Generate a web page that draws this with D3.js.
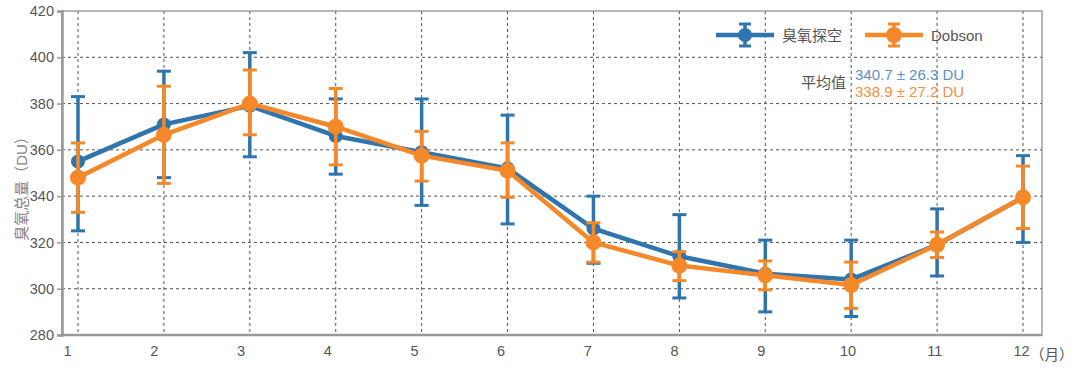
<!DOCTYPE html>
<html>
<head>
<meta charset="utf-8">
<script src="https://cdn.jsdelivr.net/npm/d3@7"></script>
<style>
  body { margin: 0; background: #fff; }
  svg text { font-family: "Liberation Sans", "Noto Sans CJK SC", sans-serif; }
</style>
</head>
<body>
<svg id="chart" width="1080" height="370"></svg>
<script>
// data
var months = [1, 2, 3, 4, 5, 6, 7, 8, 9, 10, 11, 12];
var yTicks = [280, 300, 320, 340, 360, 380, 400, 420];

var sondeMean = [355, 371, 379, 366, 359, 352, 326, 314, 306.5, 304, 319, 339.5];
var sondeHigh = [383, 394, 402, 382, 382, 375, 340, 332, 321, 321, 334.5, 357.5];
var sondeLow  = [325, 348, 357, 349.5, 336, 328, 311, 296, 290, 288, 305.5, 320];

var dobsonMean = [348, 366.5, 380, 370, 357.5, 351, 320, 310, 305.8, 301.6, 319, 339.5];
var dobsonHigh = [363, 387.5, 394.5, 386.5, 368, 363, 328.5, 316, 312, 311.5, 324.5, 353];
var dobsonLow  = [333, 345.5, 366.5, 353.5, 346.5, 339.5, 311.5, 303.5, 299.5, 291.5, 313.5, 326];

var seriesNames = ['臭氧探空', 'Dobson'];
var meanText = ['340.7 ± 26.3 DU', '338.9 ± 27.2 DU'];

var svg = d3.select('#chart');
var pLeft = 62, pRight = 1042, pTop = 11, pBottom = 335;

var x = d3.scaleLinear().domain([1, 12]).range([78, 1023]);
var xLabel = d3.scaleLinear().domain([1, 12]).range([67, 1021]);
var y = d3.scaleLinear().domain([280, 420]).range([pBottom, pTop]);

// grid
svg.append('g').selectAll('line').data(yTicks.slice(1, -1)).enter().append('line')
    .attr('x1', pLeft).attr('x2', pRight)
    .attr('y1', function (d) { return y(d); }).attr('y2', function (d) { return y(d); })
    .attr('stroke', '#555').attr('stroke-width', 1).attr('stroke-dasharray', '3,3');
svg.append('g').selectAll('line').data(months).enter().append('line')
    .attr('x1', function (d) { return x(d); }).attr('x2', function (d) { return x(d); })
    .attr('y1', pTop).attr('y2', pBottom)
    .attr('stroke', '#555').attr('stroke-width', 1).attr('stroke-dasharray', '3,3');

// frame
svg.append('rect').attr('x', pLeft).attr('y', pTop).attr('width', pRight - pLeft).attr('height', pBottom - pTop)
    .attr('fill', 'none').attr('stroke', '#888').attr('stroke-width', 1.2);

// y axis
var yAxis = d3.axisLeft(y).tickValues(yTicks).tickSize(5).tickPadding(3);
var gy = svg.append('g').attr('transform', 'translate(' + pLeft + ',0)').call(yAxis);
gy.select('.domain').attr('stroke', '#999').attr('stroke-width', 2.5);
gy.selectAll('.tick line').attr('stroke', '#999').attr('stroke-width', 1.5);
gy.selectAll('.tick text').attr('fill', '#555').style('font-size', '14.5px');

// x axis line
svg.append('line').attr('x1', pLeft).attr('x2', pRight).attr('y1', pBottom).attr('y2', pBottom)
    .attr('stroke', '#999').attr('stroke-width', 2.5);

// x labels
var xAxis = d3.axisBottom(xLabel).tickValues(months).tickSize(0).tickPadding(11).tickFormat(d3.format('d'));
var gx = svg.append('g').attr('transform', 'translate(0,' + pBottom + ')').call(xAxis);
gx.select('.domain').remove();
gx.selectAll('.tick text').attr('fill', '#555').style('font-size', '14.5px');
svg.append('text').attr('x', 1030).attr('y', 360).attr('fill', '#555')
    .style('font-size', '14.5px').text('（月）');

// y title
svg.append('text')
    .attr('transform', 'translate(27,' + ((pTop + pBottom) / 2 + 12) + ') rotate(-90)')
    .attr('text-anchor', 'middle').attr('fill', '#8a7f7a').style('font-size', '15px')
    .text('臭氧总量（DU）');

// series
var series = [
    { mean: sondeMean, high: sondeHigh, low: sondeLow, color: '#2f74ad', r: 7 },
    { mean: dobsonMean, high: dobsonHigh, low: dobsonLow, color: '#f5892a', r: 8 }
];

var line = d3.line()
    .x(function (d, i) { return x(months[i]); })
    .y(function (d) { return y(d); });

series.forEach(function (s) {
    var g = svg.append('g');
    g.append('path').datum(s.mean).attr('d', line)
        .attr('fill', 'none').attr('stroke', s.color).attr('stroke-width', 4.5)
        .attr('stroke-linejoin', 'round');
    g.selectAll('.bar').data(months).enter().append('line')
        .attr('x1', function (d) { return x(d); }).attr('x2', function (d) { return x(d); })
        .attr('y1', function (d, i) { return y(s.high[i]); })
        .attr('y2', function (d, i) { return y(s.low[i]); })
        .attr('stroke', s.color).attr('stroke-width', 3.5);
    [s.high, s.low].forEach(function (arr) {
        g.selectAll('.cap').data(months).enter().append('line')
            .attr('x1', function (d) { return x(d) - 7; }).attr('x2', function (d) { return x(d) + 7; })
            .attr('y1', function (d, i) { return y(arr[i]); })
            .attr('y2', function (d, i) { return y(arr[i]); })
            .attr('stroke', s.color).attr('stroke-width', 3);
    });
    g.selectAll('circle').data(s.mean).enter().append('circle')
        .attr('cx', function (d, i) { return x(months[i]); })
        .attr('cy', function (d) { return y(d); })
        .attr('r', s.r).attr('fill', s.color);
});

// legend
var legX = [716, 865];
series.forEach(function (s, i) {
    var g = svg.append('g').attr('transform', 'translate(' + legX[i] + ',35)');
    g.append('line').attr('x1', 0).attr('x2', 58).attr('y1', 0).attr('y2', 0)
        .attr('stroke', s.color).attr('stroke-width', 4.5);
    g.append('line').attr('x1', 29).attr('x2', 29).attr('y1', -11).attr('y2', 11)
        .attr('stroke', s.color).attr('stroke-width', 3.5);
    [-11, 11].forEach(function (dy) {
        g.append('line').attr('x1', 23).attr('x2', 35).attr('y1', dy).attr('y2', dy)
            .attr('stroke', s.color).attr('stroke-width', 3);
    });
    g.append('circle').attr('cx', 29).attr('cy', 0).attr('r', s.r).attr('fill', s.color);
    g.append('text').attr('x', 66).attr('y', 5.5).attr('fill', '#555')
        .style('font-size', '15px').text(seriesNames[i]);
});

svg.append('text').attr('x', 846).attr('y', 88).attr('text-anchor', 'end')
    .attr('fill', '#555').style('font-size', '15px').text('平均值');
var meanColors = ['#5b8fc9', '#f5903a'];
meanText.forEach(function (t, i) {
    svg.append('text').attr('x', 855).attr('y', 80 + i * 17).attr('fill', meanColors[i])
        .style('font-size', '15px').text(t);
});
</script>
</body>
</html>
